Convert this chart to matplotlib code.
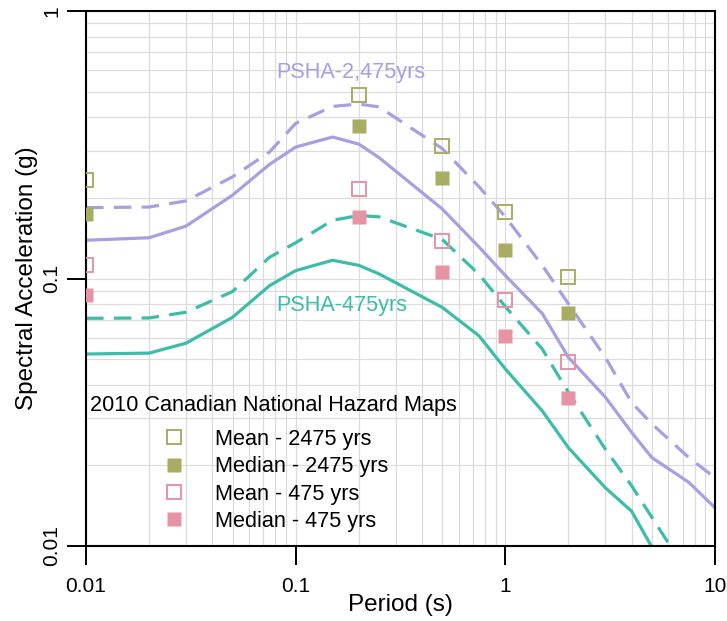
import numpy as np
import matplotlib
matplotlib.use("Agg")
import matplotlib.pyplot as plt
from matplotlib.lines import Line2D
from matplotlib.patches import Rectangle
from matplotlib.ticker import NullFormatter, LogLocator

plt.rcParams["font.family"] = ["Liberation Sans", "DejaVu Sans"]

# uniform hazard spectra (PSHA)
periods = [0.01, 0.02, 0.03, 0.05, 0.075, 0.1, 0.15, 0.2, 0.25, 0.5, 0.75,
           1, 1.5, 2, 3, 4, 5, 7.5, 10]
psha2475_solid = [0.139, 0.142, 0.157, 0.205, 0.267, 0.31, 0.338, 0.318, 0.283,
                  0.182, 0.131, 0.1026, 0.074, 0.0507, 0.036, 0.0266, 0.0214,
                  0.0173, 0.0139]
psha2475_dash = [0.184, 0.185, 0.195, 0.24, 0.297, 0.38, 0.44, 0.449, 0.438,
                 0.306, 0.22, 0.17, 0.112, 0.0804, 0.0507, 0.0344, 0.0286,
                 0.0214, 0.018]
psha475_solid = [0.0522, 0.0526, 0.0573, 0.0716, 0.094, 0.107, 0.117, 0.112,
                 0.104, 0.078, 0.061, 0.0459, 0.032, 0.0233, 0.0165, 0.0135,
                 0.0099, np.nan, np.nan]
psha475_dash = [0.071, 0.0712, 0.0748, 0.0894, 0.12, 0.136, 0.165, 0.172, 0.17,
                0.14, 0.1035, 0.0785, 0.0545, 0.0375, 0.023, 0.0168, 0.0128,
                0.0078, np.nan]

# 2010 Canadian national hazard map values
map_periods = [0.01, 0.2, 0.5, 1, 2]
mean_2475 = [0.233, 0.487, 0.313, 0.177, 0.1015]
median_2475 = [0.174, 0.373, 0.238, 0.128, 0.074]
mean_475 = [0.112, 0.216, 0.138, 0.0828, 0.0488]
median_475 = [0.0871, 0.17, 0.106, 0.0611, 0.0359]

legend_labels = ["Mean - 2475 yrs", "Median - 2475 yrs",
                 "Mean - 475 yrs", "Median - 475 yrs"]
x_ticks = [0.01, 0.1, 1, 10]
x_ticklabels = ["0.01", "0.1", "1", "10"]
y_ticks = [0.01, 0.1, 1]
y_ticklabels = ["0.01", "0.1", "1"]

PURPLE = "#AA9EE2"
TEAL = "#3BBDAA"
OLIVE = "#A9AD62"
PINK = "#E693A6"

fig = plt.figure(figsize=(7.27, 6.21), dpi=100)
ax = fig.add_axes([86 / 727, 1 - 546 / 621, 629 / 727, 535 / 621])
ax.set_xscale("log")
ax.set_yscale("log")
ax.set_xlim(0.01, 10)
ax.set_ylim(0.01, 1)

ax.grid(which="both", color="#dcdcdc", linewidth=0.9, zorder=0)
ax.set_axisbelow(True)

# white box behind the legend hides the grid
ax.add_patch(Rectangle((0, 0), 0.6, 0.305, transform=ax.transAxes,
                       facecolor="white", edgecolor="none", zorder=0.5))

lw = 2.3
dash = (5.5, 3.2)
ax.plot(periods, psha2475_solid, color=PURPLE, lw=lw, zorder=2)
ax.plot(periods, psha2475_dash, color=PURPLE, lw=lw, dashes=dash, zorder=2)
ax.plot(periods, psha475_solid, color=TEAL, lw=lw, zorder=2)
ax.plot(periods, psha475_dash, color=TEAL, lw=lw, dashes=dash, zorder=2)

ms = 10.5
ax.plot(map_periods, mean_2475, ls="none", marker="s", ms=ms, mfc="none",
        mec=OLIVE, mew=1.4, zorder=3)
ax.plot(map_periods, median_2475, ls="none", marker="s", ms=ms, mfc=OLIVE,
        mec="none", zorder=3)
ax.plot(map_periods, mean_475, ls="none", marker="s", ms=ms, mfc="none",
        mec=PINK, mew=1.4, zorder=3)
ax.plot(map_periods, median_475, ls="none", marker="s", ms=ms, mfc=PINK,
        mec="none", zorder=3)

ax.text(0.0806, 0.561, "PSHA-2,475yrs", color=PURPLE, fontsize=15.6,
        va="baseline", ha="left", zorder=4)
ax.text(0.0806, 0.0759, "PSHA-475yrs", color=TEAL, fontsize=15.6,
        va="baseline", ha="left", zorder=4)

handles = [
    Line2D([], [], ls="none", marker="s", ms=ms, mfc="none", mec=OLIVE, mew=1.4),
    Line2D([], [], ls="none", marker="s", ms=ms, mfc=OLIVE, mec="none"),
    Line2D([], [], ls="none", marker="s", ms=ms, mfc="none", mec=PINK, mew=1.4),
    Line2D([], [], ls="none", marker="s", ms=ms, mfc=PINK, mec="none"),
]
ax.legend(handles, legend_labels, loc="upper left",
          bbox_to_anchor=((152.3 - 86) / 629, (546 - 429) / 535),
          frameon=False, fontsize=15.6, handlelength=2, handletextpad=0.89,
          borderpad=0, borderaxespad=0, labelspacing=0.29)
ax.text((90 - 86) / 629, (546 - 411) / 535, "2010 Canadian National Hazard Maps",
        transform=ax.transAxes, fontsize=15.6, ha="left", va="baseline", zorder=4)

ax.set_xticks(x_ticks, x_ticklabels)
ax.set_yticks(y_ticks, y_ticklabels, rotation=90, ha="center", va="center",
              rotation_mode="default")
ax.xaxis.set_minor_locator(LogLocator(base=10, subs=np.arange(2, 10)))
ax.yaxis.set_minor_locator(LogLocator(base=10, subs=np.arange(2, 10)))
ax.xaxis.set_minor_formatter(NullFormatter())
ax.yaxis.set_minor_formatter(NullFormatter())

ax.tick_params(which="major", direction="out", length=14, width=1.4,
               labelsize=15, color="black")
ax.tick_params(which="minor", length=0)
ax.tick_params(axis="x", pad=8)
ax.tick_params(axis="y", pad=10.9)

for sp in ax.spines.values():
    sp.set_linewidth(1.5)
    sp.set_color("black")

ax.set_xlabel("Period (s)", fontsize=17.5)
ax.set_ylabel("Spectral Acceleration (g)", fontsize=17.5)
ax.xaxis.set_label_coords(0.5, -(594 - 546) / 535)
ax.yaxis.set_label_coords(-(86 - 38) / 629, 0.5)

fig.savefig("out.png", dpi=100)
